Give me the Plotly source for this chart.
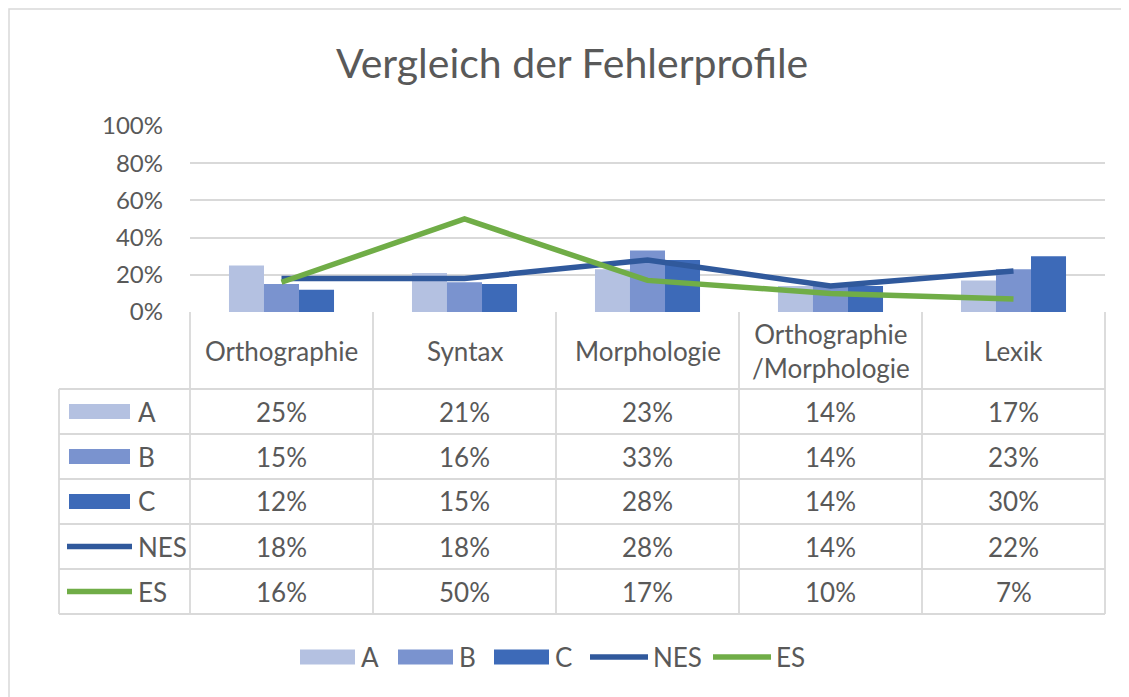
import plotly.graph_objects as go

# ---------------- data ----------------
categories = ["Orthographie", "Syntax", "Morphologie", "Orthographie<br>/Morphologie", "Lexik"]
series_names = ["A", "B", "C", "NES", "ES"]
vals_A = [0.25, 0.21, 0.23, 0.14, 0.17]
vals_B = [0.15, 0.16, 0.33, 0.14, 0.23]
vals_C = [0.12, 0.15, 0.28, 0.14, 0.30]
vals_NES = [0.18, 0.18, 0.28, 0.14, 0.22]
vals_ES = [0.16, 0.50, 0.17, 0.10, 0.07]
y_ticks = [0, 0.2, 0.4, 0.6, 0.8, 1.0]

# ---------------- style ----------------
col_A = "#B4C1E1"
col_B = "#7A93CF"
col_C = "#3D6AB8"
col_NES = "#30599C"
col_ES = "#70AD47"
grid_col = "#D9D9D9"
text_col = "#595959"
FONT = "Lato"
fs_tick = 24
fs_table = 26
fs_title = 41

OFF = 8  # page body margin
W, H = 1129 - OFF, 697 - OFF
# plot area in screen pixels
X0, X1, Y0, Y1 = 190, 1105, 126, 312
L, R, T, B = X0 - OFF, W - (X1 - OFF), Y0 - OFF, H - (Y1 - OFF)
PW, PH = W - L - R, H - T - B
n = len(categories)


def px(x):  # screen pixel -> paper
    return (x - OFF - L) / PW


def py(y):
    return (H - B - (y - OFF)) / PH


fig = go.Figure()
bar_vals = [vals_A, vals_B, vals_C]
bar_cols = [col_A, col_B, col_C]
for name, v, c in zip(series_names[:3], bar_vals, bar_cols):
    fig.add_trace(go.Bar(x=list(range(n)), y=v, name=name, marker=dict(color=c, line=dict(width=0)),
                         showlegend=False))
line_vals = [vals_NES, vals_ES]
line_cols = [col_NES, col_ES]
for name, v, c in zip(series_names[3:], line_vals, line_cols):
    fig.add_trace(go.Scatter(x=list(range(n)), y=v, name=name, mode="lines",
                             line=dict(color=c, width=5.5), showlegend=False))

shapes = []
annotations = []
lw = 1.8

# table geometry (screen pixels)
tab_left = 59
tab_top = Y1
header_bottom = 389
row_h = 45
rows_y = [header_bottom + i * row_h for i in range(len(series_names) + 1)]
tab_bottom = rows_y[-1]

# outer chart border
shapes.append(dict(type="rect", xref="paper", yref="paper", x0=px(9), x1=px(1145), y0=py(9), y1=py(710),
                   line=dict(color=grid_col, width=1.5), fillcolor="rgba(0,0,0,0)", layer="below"))

# horizontal table lines
for yy in rows_y:
    shapes.append(dict(type="line", xref="paper", yref="paper", x0=px(tab_left), x1=1, y0=py(yy), y1=py(yy),
                       line=dict(color=grid_col, width=lw)))
# vertical lines: category boundaries
for i in range(n + 1):
    shapes.append(dict(type="line", xref="paper", yref="paper", x0=i / n, x1=i / n, y0=0, y1=py(tab_bottom),
                       line=dict(color=grid_col, width=lw)))
shapes.append(dict(type="line", xref="paper", yref="paper", x0=px(tab_left), x1=px(tab_left),
                   y0=py(header_bottom), y1=py(tab_bottom), line=dict(color=grid_col, width=lw)))

# header labels
for i, cat in enumerate(categories):
    annotations.append(dict(x=i, xref="x", y=py((tab_top + header_bottom) / 2), yref="paper", text=cat,
                            showarrow=False, font=dict(family=FONT, size=fs_table, color=text_col),
                            xanchor="center", yanchor="middle"))

# data cells + legend keys in table
all_vals = [vals_A, vals_B, vals_C, vals_NES, vals_ES]
all_cols = [col_A, col_B, col_C, col_NES, col_ES]
for r, (name, v, c) in enumerate(zip(series_names, all_vals, all_cols)):
    yc = (rows_y[r] + rows_y[r + 1]) / 2
    for i, val in enumerate(v):
        annotations.append(dict(x=i, xref="x", y=py(yc), yref="paper", text=f"{round(val * 100)}%",
                                showarrow=False, font=dict(family=FONT, size=fs_table, color=text_col),
                                xanchor="center", yanchor="middle"))
    if r < 3:
        shapes.append(dict(type="rect", xref="paper", yref="paper", x0=px(69), x1=px(130),
                           y0=py(yc - 7.5), y1=py(yc + 7.5), fillcolor=c, line=dict(width=0)))
    else:
        shapes.append(dict(type="line", xref="paper", yref="paper", x0=px(67), x1=px(132),
                           y0=py(yc), y1=py(yc), line=dict(color=c, width=5.5)))
    annotations.append(dict(x=px(136), xref="paper", y=py(yc), yref="paper", text=name, showarrow=False,
                            font=dict(family=FONT, size=fs_table, color=text_col),
                            xanchor="left", yanchor="middle"))

# bottom legend
leg_y = 657
leg_x = [300, 398, 494, 589, 712]
for k, (name, c) in enumerate(zip(series_names, all_cols)):
    x0 = leg_x[k]
    if k < 3:
        shapes.append(dict(type="rect", xref="paper", yref="paper", x0=px(x0), x1=px(x0 + 55),
                           y0=py(leg_y - 7.5), y1=py(leg_y + 7.5), fillcolor=c, line=dict(width=0)))
        tx = x0 + 59
    else:
        shapes.append(dict(type="line", xref="paper", yref="paper", x0=px(x0 + 1), x1=px(x0 + 59),
                           y0=py(leg_y), y1=py(leg_y), line=dict(color=c, width=5.5)))
        tx = x0 + 62
    annotations.append(dict(x=px(tx), xref="paper", y=py(leg_y), yref="paper", text=name,
                            showarrow=False, font=dict(family=FONT, size=fs_table, color=text_col),
                            xanchor="left", yanchor="middle"))

# title
annotations.append(dict(x=px(572), xref="paper", y=py(62), yref="paper", text="Vergleich der Fehlerprofile",
                        showarrow=False, font=dict(family=FONT, size=fs_title, color=text_col),
                        xanchor="center", yanchor="middle"))

fig.update_layout(
    width=W, height=H,
    margin=dict(l=L, r=R, t=T, b=B, pad=0),
    paper_bgcolor="white", plot_bgcolor="white",
    barmode="group", bargap=0.426, bargroupgap=0,
    shapes=shapes, annotations=annotations,
    font=dict(family=FONT, color=text_col),
    xaxis=dict(range=[-0.5, n - 0.5], showticklabels=False, showgrid=False, zeroline=False,
               showline=False, fixedrange=True),
    yaxis=dict(range=[0, 1], tickvals=y_ticks, tickformat=".0%", showgrid=True, gridcolor=grid_col,
               gridwidth=1.8, zeroline=False, showline=False, ticks="", ticklabelstandoff=26,
               tickfont=dict(family=FONT, size=fs_tick, color=text_col), fixedrange=True),
)

fig.write_html("out.html")
